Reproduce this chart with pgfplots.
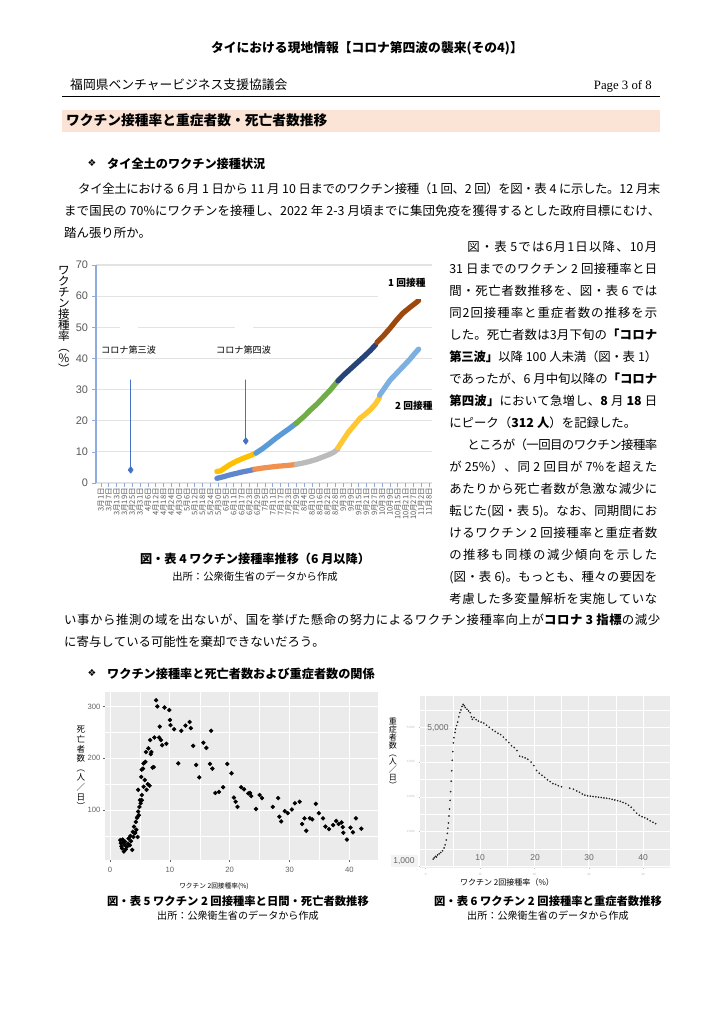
\documentclass[border=0pt]{standalone}
\usepackage{fontspec}
\usepackage{pgfplots}
\pgfplotsset{compat=1.18}
\setmainfont{Noto Sans CJK JP}
\newfontfamily\lsans{Liberation Sans}
\newfontfamily\lserif{Liberation Serif}
\newfontfamily\dvs{DejaVu Sans}
\newcount\cc
\cc="3000 \loop \XeTeXcharclass\cc=7 \advance\cc 1 \ifnum\cc<"3100 \repeat
\cc="4E00 \loop \XeTeXcharclass\cc=7 \advance\cc 1 \ifnum\cc<"A000 \repeat
\cc="FF01 \loop \XeTeXcharclass\cc=7 \advance\cc 1 \ifnum\cc<"FF61 \repeat
\XeTeXinterchartoks 7 7 = {\hskip 0pt plus 3pt minus 0.7pt\relax}
\XeTeXinterchartoks 0 7 = {\hskip 0pt plus 3pt minus 0.3pt\relax}
\XeTeXinterchartoks 7 0 = {\hskip 0pt plus 3pt minus 0.3pt\relax}
\XeTeXinterchartokenstate=1
\newdimen\px \px=0.8222pt
\newcommand\fs[1]{\fontsize{#1}{#1}\selectfont}
\newcommand\bd{\fontsize{10.2}{12}\selectfont\spaceskip=0.25em plus 0.8pt minus 0.8pt\relax}
\newcommand\J[2]{\hbox to #1\px{#2}}
\definecolor{peach}{HTML}{FBE4D5}
\definecolor{axblue}{HTML}{8FAADC}
\definecolor{gridc}{HTML}{E3E3E3}
\definecolor{tickc}{HTML}{595959}
\definecolor{cYel}{HTML}{FFC000}
\definecolor{cBlu}{HTML}{5B9BD5}
\definecolor{cGrn}{HTML}{70AD47}
\definecolor{cNav}{HTML}{264478}
\definecolor{cBrn}{HTML}{9E480E}
\definecolor{dBlu}{HTML}{4472C4}
\definecolor{cOra}{HTML}{ED7D31}
\definecolor{cGry}{HTML}{BBBBBB}
\definecolor{cYel2}{HTML}{FFC832}
\definecolor{cLbl}{HTML}{7DB0E0}
\definecolor{ggbg}{HTML}{EBEBEB}
\definecolor{ggtext}{HTML}{666666}
\begin{document}
\begin{tikzpicture}
\begin{scope}[x=0.8222pt,y=-0.8222pt,tx/.style={anchor=base west,inner sep=0pt}]
\fill[white] (0,0) rectangle (724,1024);
\path[use as bounding box] (0,0) rectangle (724,1024);
\coordinate (c4) at (96,483);
\coordinate (c5) at (105,860);
\coordinate (c6) at (420,868);
% header
\node[anchor=base,inner sep=0pt] at (367,53) {\fs{10.5}\bfseries タイにおける現地情報【コロナ第四波の襲来(その4)】};
\node[tx] at (70,90) {\fs{10.5}福岡県ベンチャービジネス支援協議会};
\node[anchor=base east,inner sep=0pt] at (652,90) {\lserif\fs{10.5}Page 3 of 8};
\draw[line width=0.6pt] (62,96) -- (660,96);
\fill[peach] (62,110) rectangle (660,132);
\node[tx] at (66,126) {\fs{11.3}\bfseries ワクチン接種率と重症者数・死亡者数推移};
% heading 1
\node[inner sep=0pt] at (92,163) {\dvs\fs{8}❖};
\node[tx] at (107,168) {\fs{10}\bfseries タイ全土のワクチン接種状況};
\node[tx] at (78,193) {\bd\J{582}{タイ全土における 6 月 1 日から 11 月 10 日までのワクチン接種（1 回、2 回）を図・表 4 に示した。12 月末}};
\node[tx] at (64,215) {\bd\J{596}{まで国民の 70\%にワクチンを接種し、2022 年 2-3 月頃までに集団免疫を獲得するとした政府目標にむけ、}};
\node[tx] at (64,237) {\bd 踏ん張り所か。};
% right column
\node[tx] at (467,251) {\bd\J{190}{図・表 5では6月1日以降、10月}};
\node[tx] at (449,273) {\bd\J{208}{31 日までのワクチン 2 回接種率と日}};
\node[tx] at (449,295) {\bd\J{208}{間・死亡者数推移を、図・表 6 では}};
\node[tx] at (449,317) {\bd\J{208}{同2回接種率と重症者数の推移を示}};
\node[tx] at (449,339) {\bd\J{208}{した。死亡者数は3月下旬の{\bfseries 「コロナ}}};
\node[tx] at (449,361) {\bd\J{208}{{\bfseries 第三波」}以降 100 人未満（図・表 1）}};
\node[tx] at (449,383) {\bd\J{208}{であったが、6 月中旬以降の{\bfseries 「コロナ}}};
\node[tx] at (449,405) {\bd\J{208}{{\bfseries 第四波」}において急増し、{\bfseries 8} 月 {\bfseries 18} 日}};
\node[tx] at (449,427) {\bd にピーク（{\bfseries 312 人}）を記録した。};
\node[tx] at (467,449) {\bd\J{190}{ところが（一回目のワクチン接種率}};
\node[tx] at (449,471) {\bd\J{208}{が 25\%）、同 2 回目が 7\%を超えた}};
\node[tx] at (449,493) {\bd\J{208}{あたりから死亡者数が急激な減少に}};
\node[tx] at (449,515) {\bd\J{208}{転じた(図・表 5)。なお、同期間にお}};
\node[tx] at (449,537) {\bd\J{208}{けるワクチン 2 回接種率と重症者数}};
\node[tx] at (449,559) {\bd\J{208}{の推移も同様の減少傾向を示した}};
\node[tx] at (449,581) {\bd\J{208}{(図・表 6)。もっとも、種々の要因を}};
\node[tx] at (449,603) {\bd\J{208}{考慮した多変量解析を実施していな}};
\node[tx] at (64,624) {\bd\J{596}{い事から推測の域を出ないが、国を挙げた懸命の努力によるワクチン接種率向上が{\bfseries コロナ 3 指標}の減少}};
\node[tx] at (64,646) {\bd に寄与している可能性を棄却できないだろう。};
% heading 2
\node[inner sep=0pt] at (92,673) {\dvs\fs{8}❖};
\node[tx] at (107,678) {\fs{10}\bfseries ワクチン接種率と死亡者数および重症者数の関係};
% captions
\node[anchor=base,inner sep=0pt] at (255,563) {\fs{10}\bfseries 図・表 4 ワクチン接種率推移（6 月以降）};
\node[anchor=base,inner sep=0pt] at (255,580) {\fs{8.5}出所：公衆衛生省のデータから作成};
\node[anchor=base,inner sep=0pt] at (238,905) {\fs{9.3}\bfseries 図・表 5 ワクチン 2 回接種率と日間・死亡者数推移};
\node[anchor=base,inner sep=0pt] at (238,919) {\fs{8.3}出所：公衆衛生省のデータから作成};
\node[anchor=base,inner sep=0pt] at (548,905) {\fs{9.3}\bfseries 図・表 6 ワクチン 2 回接種率と重症者数推移};
\node[anchor=base,inner sep=0pt] at (548,919) {\fs{8.3}出所：公衆衛生省のデータから作成};
% axis titles
\node[align=center,inner sep=0pt,font=\fontsize{9.5}{9.05}\selectfont] at (64,320) {ワ\\ク\\チ\\ン\\接\\種\\率\\︵\\\%\\︶};
\node[align=center,inner sep=0pt,font=\fontsize{7}{7.9}\selectfont] at (81,768) {死\\亡\\者\\数\\︵\\人\\／\\日\\︶};
\node[align=center,inner sep=0pt,font=\fontsize{6.6}{6.65}\selectfont] at (393,753) {重\\症\\者\\数\\︵\\人\\／\\日\\︶};
\node[inner sep=0pt] at (214,886) {\fs{5.5}ワクチン 2回接種率(\%)};
\node[inner sep=0pt] at (507,882) {\fs{6.6}ワクチン 2回接種率（\%）};
\end{scope}

% ---------- Chart 4 ----------
\begin{axis}[at={(c4)}, anchor=south west, scale only axis, width=276.3pt, height=179.2pt,
  xmin=-3.84, xmax=254.3, ymin=0, ymax=70, clip=false,
  axis lines=left, axis line style={-}, x axis line style={draw=none},
  y axis line style={draw=axblue, line width=0.9pt},
  ytick={0,10,...,70}, ymajorgrids, grid style={draw=gridc, line width=1pt},
  xtick={0,6,...,252},
  xticklabels={3月1日,3月7日,3月13日,3月19日,3月25日,3月31日,4月6日,4月12日,4月18日,4月24日,4月30日,5月6日,5月12日,5月18日,5月24日,5月30日,6月5日,6月11日,6月17日,6月23日,6月29日,7月5日,7月11日,7月17日,7月23日,7月29日,8月4日,8月10日,8月16日,8月22日,8月28日,9月3日,9月9日,9月15日,9月21日,9月27日,10月3日,10月9日,10月15日,10月21日,10月27日,11月2日,11月8日},
  tick align=outside, major tick length=3pt, tick style={draw=axblue, line width=0.6pt},
  yticklabel style={font=\lsans\fs{9}, text=tickc},
  xticklabel style={rotate=90, anchor=east, font=\fs{6.2}, text=tickc, inner sep=1pt},
  /pgf/number format/assume math mode=true,
  every axis plot/.append style={line width=4.3pt, line cap=round, line join=round}]
% 1st dose
\addplot[cYel] coordinates {(89,3.7)(92,3.9)(95,4.8)(99,5.9)(104,7.0)(109,7.9)(114,8.7)(119,9.6)};
\addplot[cBlu] coordinates {(119,9.6)(124,11.0)(129,12.6)(135,14.6)(140,16.1)(145,17.6)(150,19.2)};
\addplot[cGrn] coordinates {(150,19.2)(156,21.4)(161,23.5)(166,25.4)(171,27.6)(176,29.8)(182,32.8)};
\addplot[cNav] coordinates {(182,32.8)(187,34.9)(192,36.8)(197,38.7)(202,40.6)(207,42.6)(211,44.4)};
\addplot[cBrn] coordinates {(212,45.2)(217,47.3)(222,49.7)(227,52.3)(232,54.6)(237,56.3)(241,57.6)(244,58.6)};
% 2nd dose
\addplot[dBlu!85] coordinates {(89,1.5)(94,2.0)(99,2.6)(104,3.1)(109,3.6)(114,4.0)(118,4.4)};
\addplot[cOra!85] coordinates {(118,4.4)(124,4.8)(130,5.1)(136,5.4)(142,5.6)(147,5.8)(150,6.0)};
\addplot[cGry] coordinates {(150,6.0)(155,6.4)(160,6.9)(165,7.5)(170,8.3)(175,9.1)(179,9.9)(182,11.0)};
\addplot[cYel2] coordinates {(182,11.3)(186,13.8)(190,16.3)(195,18.8)(199,20.8)(203,22.1)(207,23.6)(211,25.5)(214,27.5)};
\addplot[cLbl] coordinates {(214,28.2)(218,30.6)(222,33.0)(227,35.2)(232,37.4)(237,39.6)(241,41.6)(244,43.0)};
% wave markers
\addplot[dBlu, line width=0.7pt, mark=diamond*, mark size=2.6pt, mark indices={1}, mark options={fill=dBlu}] coordinates {(22.8,4.2)(22.8,33.1)};
\addplot[dBlu, line width=0.7pt, mark=diamond*, mark size=2.6pt, mark indices={1}, mark options={fill=dBlu}] coordinates {(111.2,13.5)(111.2,33.1)};
\end{axis}

% ---------- Chart 5 ----------
\begin{axis}[at={(c5)}, anchor=south west, scale only axis, width=224.5pt, height=138.1pt,
  xmin=-0.85, xmax=44.8, ymin=3.5, ymax=327.8,
  axis background/.style={fill=ggbg}, axis line style={draw=none},
  xtick={0,10,20,30,40}, minor xtick={5,15,25,35}, ytick={100,200,300}, minor ytick={50,150,250},
  grid=both, major grid style={white, line width=0.8pt}, minor grid style={white, line width=0.4pt},
  tick pos=left, tick align=outside, major tick length=2pt, minor tick length=0pt,
  tick style={draw=ggtext, line width=0.4pt},
  ticklabel style={font=\lsans\fs{6.3}, text=ggtext},
  yticklabel style={xshift=1.8pt},
  /pgf/number format/assume math mode=true]
\addplot[only marks, mark=*, mark size=1.6pt, black] coordinates {
(1.7,42)(1.8,36)(1.9,30)(2.0,26)(2.1,43)(2.2,38)(2.3,20)(2.4,33)(2.5,39)(2.6,24)(2.8,29)(3.0,35)(3.1,45)(3.3,32)(3.4,50)(3.5,40)(3.7,23)(3.8,58)(3.9,48)(4.0,68)(4.1,55)(4.2,56)(4.3,77)(4.4,62)(4.5,85)(4.6,87)(4.6,48)(4.7,97)(4.7,139)(4.8,90)(4.9,106)(5.0,119)(5.1,113)(5.2,164)(5.3,129)(5.3,119)(5.3,178)(5.5,180)(5.6,145)(5.6,190)(5.8,158)(5.9,193)(6.0,212)(6.1,139)(6.3,150)(6.4,219)(6.6,147)(6.7,235)(6.8,208)(6.9,212)(7.1,182)(7.3,183)(7.4,240)(7.7,312)(7.9,300)(8.2,240)(8.3,261)(8.5,235)(8.7,225)(9.1,298)(9.4,228)(9.9,293)(10.0,274)(10.1,264)(10.7,256)(11.4,190)(11.9,253)(12.6,263)(13.3,270)(13.5,258)(13.9,224)(14.4,187)(14.9,163)(15.6,230)(16.1,220)(16.7,189)(16.9,253)(17.1,180)(17.6,133)(18.2,135)(18.9,144)(19.6,189)(20.3,171)(20.7,124)(21.0,116)(21.3,106)(21.9,144)(22.4,140)(23.1,132)(23.4,133)(23.6,127)(24.4,102)(25.0,129)(25.4,123)(27.2,106)(28.1,123)(28.3,87)(28.6,78)(29.2,98)(29.7,94)(30.4,101)(30.9,113)(31.7,116)(32.1,73)(32.5,84)(32.8,60)(33.4,84)(33.8,82)(34.4,112)(34.9,94)(35.6,84)(36.0,68)(36.6,63)(37.3,71)(37.8,79)(38.2,73)(38.7,76)(38.9,67)(39.0,56)(39.6,43)(40.2,66)(40.6,57)(41.1,84)(42.0,64)};
\end{axis}

% ---------- Chart 6 ----------
\begin{axis}[at={(c6)}, anchor=south west, scale only axis, width=205.5pt, height=141.4pt,
  xmin=-1.03, xmax=44.93, ymin=954, ymax=5899,
  axis background/.style={fill=ggbg}, axis line style={draw=none},
  xtick={0,10,20,30,40}, minor xtick={5,15,25,35}, ytick={1000,2000,3000,4000,5000}, minor ytick={1500,2500,3500,4500,5500},
  grid=both, major grid style={white, line width=0.5pt}, minor grid style={white, line width=0.25pt},
  tick pos=left, tick align=outside, major tick length=1pt, minor tick length=0pt,
  tick style={draw=gray!50, line width=0.3pt}, scaled ticks=false,
  ticklabel style={font=\lsans\fs{2.5}, text=gray!50},
  /pgf/number format/assume math mode=true]
\addplot[only marks, mark=*, mark size=0.45pt, black!85] coordinates {
(1.4,1210)(1.6,1250)(1.8,1290)(2.0,1270)(2.2,1330)(2.5,1360)(2.8,1400)(3.1,1450)(3.4,1530)(3.6,1620)(3.8,1760)(4.0,1950)(4.1,2100)(4.2,2250)(4.3,2450)(4.4,2650)(4.5,2900)(4.6,3150)(4.7,3450)(4.8,3750)(4.9,4050)(5.0,4300)(5.1,4550)(5.2,4700)(5.4,4850)(5.5,4950)(5.7,5050)(5.9,5150)(6.1,5300)(6.3,5420)(6.5,5500)(6.7,5600)(6.9,5660)(7.1,5620)(7.3,5570)(7.6,5520)(7.9,5470)(8.2,5420)(8.4,5300)(8.6,5230)(8.9,5280)(9.3,5220)(9.7,5180)(10.2,5150)(10.7,5120)(11.2,5060)(11.7,5000)(12.3,4930)(12.8,4880)(13.3,4830)(13.8,4790)(14.3,4720)(14.8,4640)(15.3,4560)(15.8,4470)(16.3,4420)(16.8,4330)(17.3,4170)(17.8,4150)(18.3,4120)(18.8,4080)(19.4,4000)(19.9,3900)(20.4,3760)(20.9,3680)(21.4,3620)(21.9,3560)(22.4,3490)(22.9,3440)(23.4,3380)(23.9,3360)(24.4,3320)(25.0,3290)(26.5,3250)(27.2,3220)(27.8,3170)(28.3,3130)(28.8,3080)(29.3,3050)(29.8,3030)(30.3,3020)(30.8,3010)(31.3,3000)(31.8,2990)(32.3,2980)(32.8,2970)(33.3,2960)(33.8,2950)(34.3,2930)(34.8,2910)(35.3,2890)(35.8,2870)(36.3,2840)(36.8,2810)(37.3,2760)(37.8,2700)(38.3,2620)(38.8,2530)(39.3,2470)(39.8,2430)(40.3,2400)(40.8,2360)(41.3,2310)(41.8,2270)(42.3,2230)};
\end{axis}

% ---------- overlays ----------
\begin{scope}[x=0.8222pt,y=-0.8222pt]
\fill[white] (120,325) rectangle (138,330);
\fill[white] (235,325) rectangle (253,330);
\fill[white] (378,293.5) rectangle (433,299);
\node[anchor=west,inner sep=0pt] at (101,350) {\fs{7.5}コロナ第三波};
\node[anchor=west,inner sep=0pt] at (216,350) {\fs{7.5}コロナ第四波};
\node[anchor=west,inner sep=0pt] at (388,283) {\fs{8}\bfseries 1 回接種};
\node[anchor=west,inner sep=0pt] at (395,406) {\fs{8}\bfseries 2 回接種};
\node[inner sep=0pt,text=ggtext] at (438,728) {\lsans\fs{7}5,000};
\node[fill=ggbg!80!gray!30, text=ggtext, inner sep=1.5pt, minimum width=27\px, minimum height=12\px] at (404,861) {\lsans\fs{7}1,000};
\node[inner sep=0pt,text=ggtext] at (480,858) {\lsans\fs{7}10};
\node[inner sep=0pt,text=ggtext] at (535,858) {\lsans\fs{7}20};
\node[inner sep=0pt,text=ggtext] at (589,858) {\lsans\fs{7}30};
\node[inner sep=0pt,text=ggtext] at (643,858) {\lsans\fs{7}40};
\end{scope}
\end{tikzpicture}
\end{document}
